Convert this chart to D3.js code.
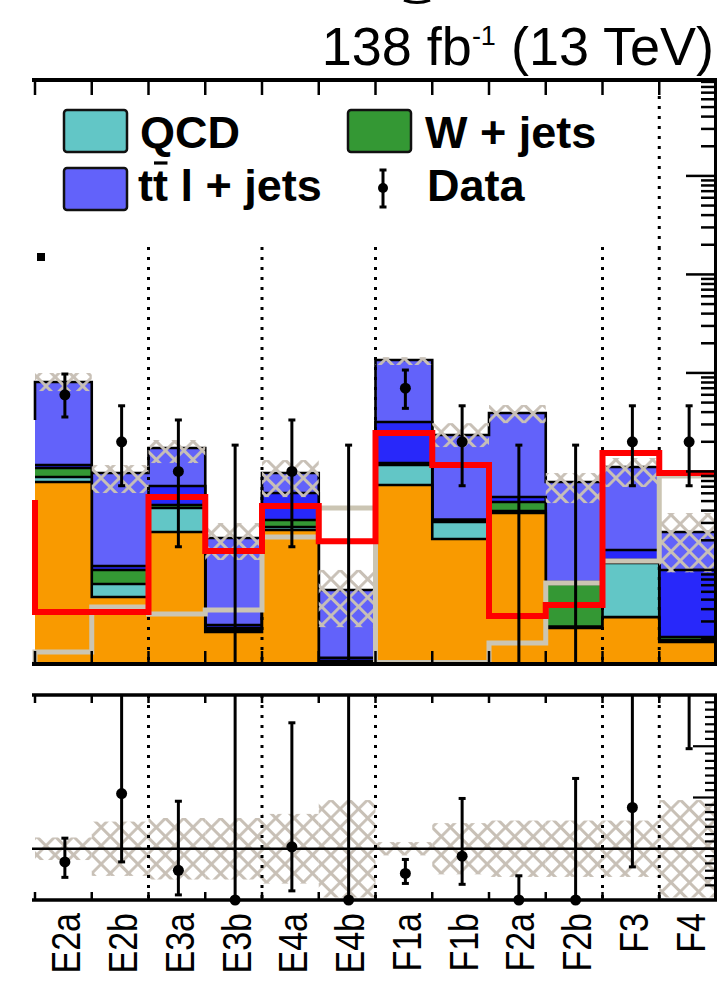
<!DOCTYPE html>
<html>
<head>
<meta charset="utf-8">
<script src="https://cdn.jsdelivr.net/npm/d3@7"></script>
<style>
  html, body { margin: 0; padding: 0; background: #fff; }
  svg { display: block; }
  text { font-family: "Liberation Sans", Arial, Helvetica, sans-serif; }
</style>
</head>
<body>
<svg id="chart" width="717" height="985"></svg>
<script>
// ---- search-region bins ----
const categories = ["E2a", "E2b", "E3a", "E3b", "E4a", "E4b", "F1a", "F1b", "F2a", "F2b", "F3", "F4"];
// bins that open a new group (dotted separators at their left edge)
const sectionStarts = ["E3a", "E4a", "F1a", "F3", "F4"];

// ---- stacked backgrounds, bottom to top (events / bin) ----
const bkgOrange = [0.780, 0.0531, 0.2425, 0.02342, 0.2541, 0.0095, 0.7275, 0.2059, 0.378, 0.02571, 0.03324, 0.01854];
const qcd       = [0.097, 0.0188, 0.1825, 0.00112, 0.0185, 0.0012, 0.4335, 0.1005, 0.0183, 0.00092, 0.0843, 0.00088];
const wJets     = [0.206, 0.0279, 0.031, 0.00117, 0.0484, 0.0012, 0.056, 0.0109, 0.0927, 0.04527, 0.0085, 0.00141];
const bkgBlue   = [0.078, 0.0097, 0.255, 0.00187, 0.2825, 0.0009, 1.956, 0.0075, 0.0607, 0.0035, 0.0332, 0.07897];
const ttLJets   = [6.92, 0.8535, 1.017, 0.1833, 0.3595, 0.0497, 10.35, 2.017, 3.366, 0.7046, 0.949, 0.1427];

// background uncertainty: multiplicative band edges on the total, and relative band in the ratio
const uncUp   = [1.235, 1.206, 1.206, 1.42, 1.355, 1.6, 1.07, 1.32, 1.206, 1.235, 1.235, 1.56];
const uncDown = [0.81, 0.627, 0.704, 0.598, 0.57, 0.42, 0.89, 0.755, 0.79, 0.612, 0.627, 0.39];
const ratioUnc = [0.22, 0.53, 0.6, 0.6, 0.68, 0.95, 0.13, 0.5, 0.55, 0.55, 0.55, 0.95];

// ---- observed data with interval ends ----
const dataCounts = [6, 2, 1, 0, 1, 0, 7, 2, 0, 0, 2, 2];
const dataLow    = [3.57, 0.716, 0.172, 0, 0.172, 0, 4.37, 0.716, 0, 0, 0.716, 0.716];
const dataHigh   = [9.75, 4.64, 3.33, 1.85, 3.33, 1.85, 10.7, 4.64, 1.85, 1.85, 4.64, 4.64];

// ---- signal hypotheses (line histograms) ----
const signalRed  = [0.0374, 0.0374, 0.550, 0.1555, 0.445, 0.196, 2.45, 1.16, 0.034, 0.044, 1.54, 0.963];
const signalGrey = [0.0147, 0.042, 0.0357, 0.0392, 0.216, 0.425, 0.0115, 0.0115, 0.0181, 0.0736, 0.123, 0.898];
// levels of the bin just before E2a
const leadIn = { red: 0.478, grey: 0.005, stackTop: 3.33 };

// ---- layout ----
const frameLeft = 32, frameRight = 716;
const mainTop = 80, mainBottom = 664;
const ratioTop = 695, ratioBottom = 900;

const svg = d3.select("#chart");
const x = d3.scaleBand().domain(categories).range([35, frameRight]);
const bw = x.bandwidth();
const y = d3.scaleLog().domain([0.0111, 9410]).range([mainBottom, mainTop]).clamp(true);
const yr = d3.scaleLinear().domain([0, 4]).range([ratioBottom, ratioTop]);

const colors = {
  bkgOrange: "#f99a00",
  qcd: "#62c6c6",
  wJets: "#349834",
  bkgBlue: "#2828fa",
  ttLJets: "#6262fa"
};
const hatchColor = "#c8c0b6";

// ---- defs: hatch + clips ----
const defs = svg.append("defs");
const cell = 13;
const pat = defs.append("pattern")
  .attr("id", "hatch").attr("patternUnits", "userSpaceOnUse")
  .attr("width", cell).attr("height", cell)
  .attr("patternTransform", "rotate(45)");
pat.append("path").attr("d", `M0,${cell / 2}H${cell}M${cell / 2},0V${cell}`)
  .attr("stroke", hatchColor).attr("stroke-width", 2.8).attr("fill", "none");

defs.append("clipPath").attr("id", "clipMain").append("rect")
  .attr("x", frameLeft).attr("y", mainTop).attr("width", frameRight - frameLeft).attr("height", mainBottom - mainTop);
defs.append("clipPath").attr("id", "clipRatio").append("rect")
  .attr("x", frameLeft).attr("y", ratioTop).attr("width", frameRight - frameLeft).attr("height", ratioBottom - ratioTop);

// ---- stack ----
const keys = ["bkgOrange", "qcd", "wJets", "bkgBlue", "ttLJets"];
const series = { bkgOrange, qcd, wJets, bkgBlue, ttLJets };
const table = categories.map((c, i) => {
  const row = { cat: c };
  keys.forEach(k => row[k] = series[k][i]);
  return row;
});
const stacked = d3.stack().keys(keys)(table);
const total = categories.map((c, i) => d3.sum(keys, k => series[k][i]));

const stepPoints = vals => vals.flatMap((v, i) => [[x(categories[i]), v], [x(categories[i]) + bw, v]]);

const gMain = svg.append("g").attr("clip-path", "url(#clipMain)");

const area = d3.area().x(p => p[0]).y0(mainBottom).y1(p => y(p[1]));
const line = d3.line().x(p => p[0]).y(p => y(p[1]));

stacked.slice().reverse().forEach((layer, idx) => {
  const tops = layer.map(d => d[1]);
  const pts = stepPoints(tops);
  gMain.append("path").attr("d", area(pts)).attr("fill", colors[layer.key]).attr("stroke", "none");
  const outline = idx === 0 ? [[x(categories[0]), leadIn.stackTop], ...pts] : pts;
  gMain.append("path").attr("d", line(outline))
    .attr("fill", "none").attr("stroke", "#000").attr("stroke-width", 2.6);
});

// uncertainty hatch on the total
gMain.selectAll("rect.unc").data(categories).join("rect")
  .attr("class", "unc")
  .attr("x", c => x(c)).attr("width", bw)
  .attr("y", (c, i) => y(total[i] * uncUp[i]))
  .attr("height", (c, i) => y(total[i] * uncDown[i]) - y(total[i] * uncUp[i]))
  .attr("fill", "url(#hatch)");

// group separators
function separators(g, y0, y1) {
  g.selectAll(null).data(sectionStarts).join("line")
    .attr("x1", c => x(c)).attr("x2", c => x(c))
    .attr("y1", y0).attr("y2", y1)
    .attr("stroke", "#000").attr("stroke-width", 3).attr("stroke-dasharray", "3,7");
}
separators(gMain, 247, mainBottom);

// signal lines
const sigLine = (vals, lead) => line([[frameLeft, lead], [x(categories[0]), lead], ...stepPoints(vals)]);
gMain.append("path").attr("d", sigLine(signalGrey, leadIn.grey))
  .attr("fill", "none").attr("stroke", "#cbc5b3").attr("stroke-width", 5);
gMain.append("path").attr("d", sigLine(signalRed, leadIn.red))
  .attr("fill", "none").attr("stroke", "#ff0000").attr("stroke-width", 6);

// data
const cx = c => x(c) + bw / 2 + 1.5;
categories.forEach((c, i) => {
  const hi = y(dataHigh[i]);
  const lo = dataCounts[i] > 0 ? y(dataLow[i]) : mainBottom;
  gMain.append("line").attr("x1", cx(c)).attr("x2", cx(c)).attr("y1", hi).attr("y2", lo)
    .attr("stroke", "#000").attr("stroke-width", 3);
  gMain.append("line").attr("x1", cx(c) - 3.5).attr("x2", cx(c) + 3.5).attr("y1", hi).attr("y2", hi)
    .attr("stroke", "#000").attr("stroke-width", 3);
  if (dataCounts[i] > 0) {
    gMain.append("line").attr("x1", cx(c) - 3.5).attr("x2", cx(c) + 3.5).attr("y1", lo).attr("y2", lo)
      .attr("stroke", "#000").attr("stroke-width", 3);
    gMain.append("circle").attr("cx", cx(c)).attr("cy", y(dataCounts[i])).attr("r", 5.5).attr("fill", "#000");
  }
});

// ---- legend (white box) ----
const leg = svg.append("g");
leg.append("rect").attr("x", frameLeft).attr("y", 82).attr("width", 608).attr("height", 164).attr("fill", "#fff");
const legendBoxes = [
  { x: 64, y: 110, fill: colors.qcd },
  { x: 348, y: 110, fill: colors.wJets },
  { x: 64, y: 168, fill: colors.ttLJets }
];
leg.selectAll("rect.box").data(legendBoxes).join("rect").attr("class", "box")
  .attr("x", d => d.x).attr("y", d => d.y).attr("width", 63).attr("height", 42)
  .attr("rx", 3).attr("fill", d => d.fill).attr("stroke", "#111").attr("stroke-width", 2.5);
const legText = (tx, ty) => leg.append("text").attr("x", tx).attr("y", ty)
  .attr("font-size", 45).attr("font-weight", "bold").attr("fill", "#000");
legText(140, 148).text("QCD");
legText(425, 148).text("W + jets");
const ttText = legText(138, 201).text("tt l + jets");
// bar over the second t
const ttNode = ttText.node();
const barX0 = ttNode.getStartPositionOfChar(1).x, barX1 = ttNode.getEndPositionOfChar(1).x;
leg.append("line").attr("x1", barX0 + 1).attr("x2", barX1 - 0.5).attr("y1", 163).attr("y2", 163)
  .attr("stroke", "#000").attr("stroke-width", 3.2);
legText(427, 201).text("Data");
leg.append("line").attr("x1", 383).attr("x2", 383).attr("y1", 170).attr("y2", 207).attr("stroke", "#000").attr("stroke-width", 3);
leg.append("line").attr("x1", 379.5).attr("x2", 386.5).attr("y1", 170).attr("y2", 170).attr("stroke", "#000").attr("stroke-width", 3);
leg.append("line").attr("x1", 379.5).attr("x2", 386.5).attr("y1", 207).attr("y2", 207).attr("stroke", "#000").attr("stroke-width", 3);
leg.append("circle").attr("cx", 383).attr("cy", 188).attr("r", 5).attr("fill", "#000");

// the last separator runs past the legend box
svg.append("line").attr("x1", x("F4")).attr("x2", x("F4")).attr("y1", 96).attr("y2", 247)
  .attr("stroke", "#000").attr("stroke-width", 3).attr("stroke-dasharray", "3,7");

// ---- main axes ----
const edges = categories.map(c => x(c)).concat([frameRight]);
const ax = svg.append("g").attr("stroke", "#000");
ax.append("line").attr("x1", frameLeft).attr("x2", 717).attr("y1", mainTop).attr("y2", mainTop).attr("stroke-width", 4);
ax.append("line").attr("x1", frameLeft).attr("x2", 717).attr("y1", mainBottom).attr("y2", mainBottom).attr("stroke-width", 4);
ax.append("line").attr("x1", 715.5).attr("x2", 715.5).attr("y1", mainTop).attr("y2", mainBottom).attr("stroke-width", 3);
edges.forEach(e => {
  ax.append("line").attr("x1", e).attr("x2", e).attr("y1", mainTop).attr("y2", mainTop + 15).attr("stroke-width", 2.5);
  ax.append("line").attr("x1", e).attr("x2", e).attr("y1", mainBottom).attr("y2", mainBottom - 13).attr("stroke-width", 2.5);
});
y.ticks().forEach(t => {
  const major = Math.abs(Math.log10(t) - Math.round(Math.log10(t))) < 1e-6;
  ax.append("line").attr("x1", frameRight - (major ? 30 : 15)).attr("x2", frameRight)
    .attr("y1", y(t)).attr("y2", y(t)).attr("stroke-width", 2.5);
});

// ---- ratio panel ----
const gRatio = svg.append("g").attr("clip-path", "url(#clipRatio)");
gRatio.selectAll("rect.runc").data(categories).join("rect")
  .attr("class", "runc")
  .attr("x", c => x(c)).attr("width", bw)
  .attr("y", (c, i) => yr(1 + ratioUnc[i]))
  .attr("height", (c, i) => yr(Math.max(0, 1 - ratioUnc[i])) - yr(1 + ratioUnc[i]))
  .attr("fill", "url(#hatch)");
separators(gRatio, ratioTop, ratioBottom);
gRatio.append("line").attr("x1", frameLeft).attr("x2", 717).attr("y1", yr(1)).attr("y2", yr(1))
  .attr("stroke", "#000").attr("stroke-width", 2.5);

categories.forEach((c, i) => {
  const r = dataCounts[i] / total[i];
  const rh = yr(dataHigh[i] / total[i]);
  const rl = yr(dataLow[i] / total[i]);
  gRatio.append("line").attr("x1", cx(c)).attr("x2", cx(c)).attr("y1", rh).attr("y2", rl)
    .attr("stroke", "#000").attr("stroke-width", 3);
  if (dataHigh[i] / total[i] < 4)
    gRatio.append("line").attr("x1", cx(c) - 3.5).attr("x2", cx(c) + 3.5).attr("y1", rh).attr("y2", rh)
      .attr("stroke", "#000").attr("stroke-width", 3);
  if (dataCounts[i] > 0)
    gRatio.append("line").attr("x1", cx(c) - 3.5).attr("x2", cx(c) + 3.5).attr("y1", rl).attr("y2", rl)
      .attr("stroke", "#000").attr("stroke-width", 3);
  if (r <= 4)
    svg.append("circle").attr("cx", cx(c)).attr("cy", yr(r)).attr("r", 5.5).attr("fill", "#000");
});

const rax = svg.append("g").attr("stroke", "#000");
rax.append("line").attr("x1", frameLeft).attr("x2", 717).attr("y1", ratioTop).attr("y2", ratioTop).attr("stroke-width", 3.5);
rax.append("line").attr("x1", frameLeft).attr("x2", 717).attr("y1", ratioBottom).attr("y2", ratioBottom).attr("stroke-width", 3.5);
rax.append("line").attr("x1", 715.5).attr("x2", 715.5).attr("y1", ratioTop).attr("y2", ratioBottom).attr("stroke-width", 3);
edges.forEach(e => {
  rax.append("line").attr("x1", e).attr("x2", e).attr("y1", ratioTop).attr("y2", ratioTop + 8).attr("stroke-width", 2.5);
  rax.append("line").attr("x1", e).attr("x2", e).attr("y1", ratioBottom).attr("y2", ratioBottom - 8).attr("stroke-width", 2.5);
});
const ratioTicks = d3.range(2, 28).map(k => k / 7);
ratioTicks.forEach(t => {
  const major = Math.abs(t - Math.round(t)) < 1e-6;
  rax.append("line").attr("x1", frameRight - (major ? 23 : 11)).attr("x2", frameRight)
    .attr("y1", yr(t)).attr("y2", yr(t)).attr("stroke-width", 2.2);
});

// ---- bin labels ----
svg.selectAll("text.bin").data(categories).join("text")
  .attr("class", "bin")
  .attr("transform", c => `translate(${x(c) + bw / 2 + 17},913) rotate(-90) scale(1,1.18)`)
  .attr("text-anchor", "end")
  .attr("font-size", 34)
  .attr("fill", "#000")
  .text(c => c);

// ---- luminosity / energy ----
const lumi = svg.append("text").attr("x", 714).attr("y", 65).attr("text-anchor", "end")
  .attr("font-size", 54).attr("fill", "#000");
lumi.append("tspan").text("138 fb");
lumi.append("tspan").attr("font-size", 27).attr("dy", -20).text("-1");
lumi.append("tspan").attr("dy", 20).text(" (13 TeV)");

// fragments of neighbouring text
svg.append("path").attr("d", "M404,0 Q417,5 430,0").attr("fill", "none").attr("stroke", "#000").attr("stroke-width", 3);
svg.append("rect").attr("x", 37).attr("y", 253).attr("width", 8).attr("height", 8).attr("fill", "#000");
</script>
</body>
</html>
